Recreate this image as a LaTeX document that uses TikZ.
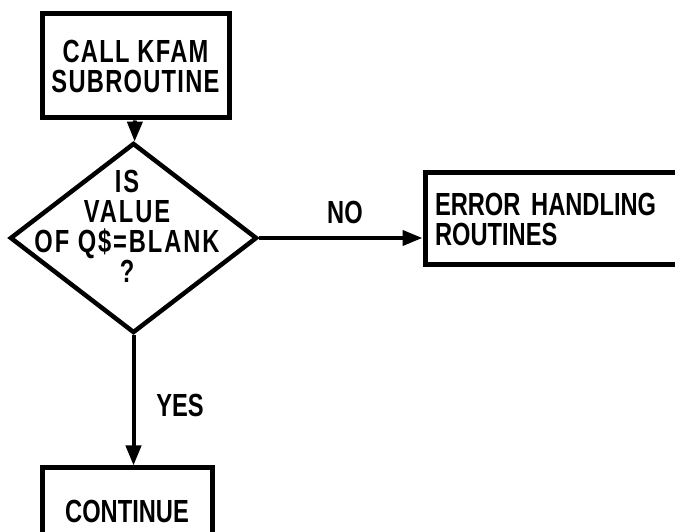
\documentclass[tikz,border=0pt]{standalone}
\usepackage{fontspec}
\setmainfont{Liberation Sans}[FakeStretch=0.74]
\usetikzlibrary{shapes.geometric,arrows.meta}
\begin{document}
\begin{tikzpicture}[
    x=1pt, y=1pt,
    every node/.style={font=\bfseries\fontsize{32}{30}\selectfont},
    process/.style={rectangle, draw=black, line width=5pt, align=center, inner sep=0pt},
    decision/.style={diamond, draw=black, line width=4.5pt, inner sep=0pt, minimum width=247pt, minimum height=190pt},
    decisiontext/.style={align=center, inner sep=0pt, font=\bfseries\fontsize{32}{30}\selectfont\addfontfeature{LetterSpace=6}},
    label/.style={inner sep=0pt},
    arrow/.style={-{Triangle[length=20pt,width=15pt]}, line width=4pt, black}
]
\useasboundingbox (0,0) rectangle (675,532);
\clip (0,0) rectangle (675,532);
\node[process, minimum width=187pt, minimum height=104pt, font=\bfseries\fontsize{32}{30}\selectfont\addfontfeature{LetterSpace=4}] (call) at (135.5,466) {CALL KFAM\\SUBROUTINE};
\node[decision] (check) at (133.5,294) {};
\node[decisiontext] (checktext) at (127,306) {IS\\VALUE\\OF Q\$=BLANK\\?};
\node[process, minimum width=300pt, minimum height=92pt, text width=280pt, align=left] (error) at (575,313) {ERROR HANDLING\\ROUTINES};
\node[process, minimum width=170pt, minimum height=87pt] (cont) at (127,20.5) {CONTINUE};
\node[label] (no) at (345,320) {NO};
\node[label] (yes) at (180,127) {YES};

\draw[arrow] (call) -- (check);
\draw[arrow] (check.east) -- (check.east -| error.west);
\draw[arrow] (check.south) -- (check.south |- cont.north);
\end{tikzpicture}
\end{document}
